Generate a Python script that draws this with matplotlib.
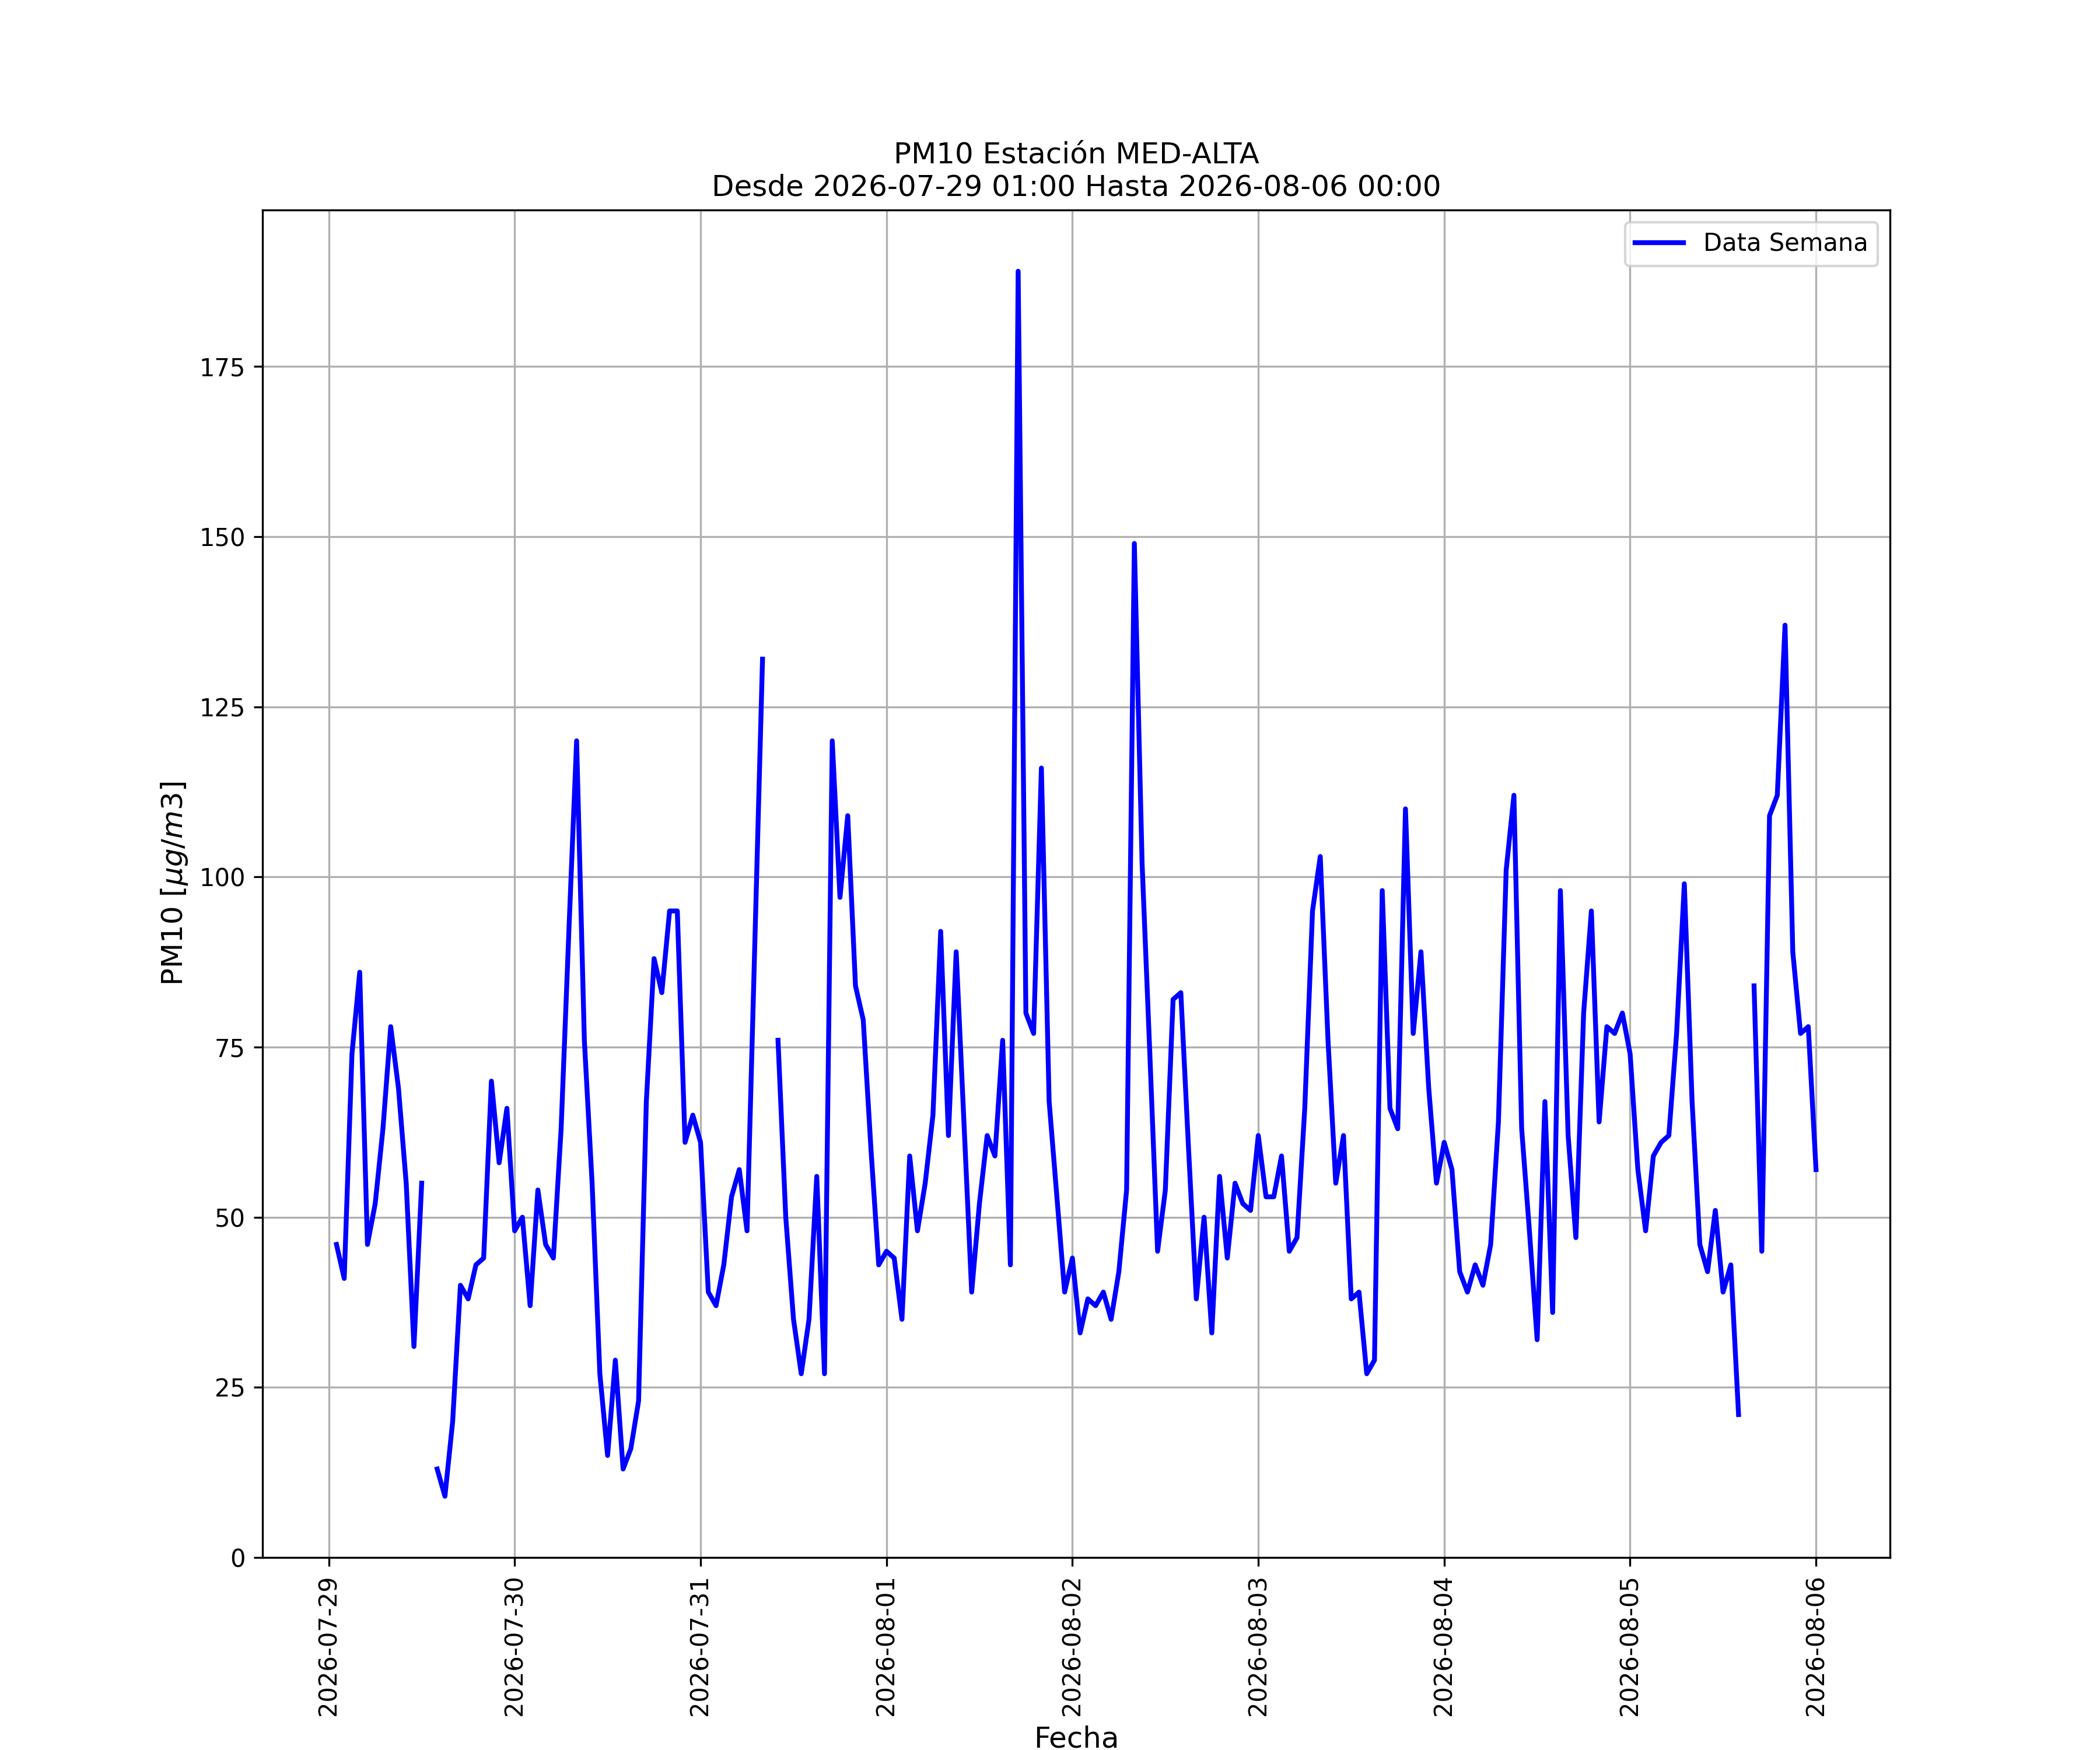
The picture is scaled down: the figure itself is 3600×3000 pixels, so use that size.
import numpy as np
import pandas as pd
import matplotlib
matplotlib.use('Agg')
import matplotlib.pyplot as plt
import matplotlib.dates as mdates

nan = np.nan

# hourly PM10 values, one list per day
day_0729 = [46, 41, 74, 86, 46, 52, 63, 78, 69, 55, 31, 55, nan, 13, 9, 20, 40, 38, 43, 44, 70, 58, 66]  # from 01:00
day_0730 = [48, 50, 37, 54, 46, 44, 63, 92, 120, 76, 55, 27, 15, 29, 13, 16, 23, 67, 88, 83, 95, 95, 61, 65]
day_0731 = [61, 39, 37, 43, 53, 57, 48, 90, 132, nan, 76, 50, 35, 27, 35, 56, 27, 120, 97, 109, 84, 79, 60, 43]
day_0801 = [45, 44, 35, 59, 48, 55, 65, 92, 62, 89, 64, 39, 52, 62, 59, 76, 43, 189, 80, 77, 116, 67, 53, 39]
day_0802 = [44, 33, 38, 37, 39, 35, 42, 54, 149, 102, 74, 45, 54, 82, 83, 60, 38, 50, 33, 56, 44, 55, 52, 51]
day_0803 = [62, 53, 53, 59, 45, 47, 66, 95, 103, 76, 55, 62, 38, 39, 27, 29, 98, 66, 63, 110, 77, 89, 69, 55]
day_0804 = [61, 57, 42, 39, 43, 40, 46, 64, 101, 112, 63, 48, 32, 67, 36, 98, 62, 47, 80, 95, 64, 78, 77, 80]
day_0805 = [74, 57, 48, 59, 61, 62, 77, 99, 67, 46, 42, 51, 39, 43, 21, nan, 84, 45, 109, 112, 137, 89, 77, 78]
day_0806 = [57]

START = '2026-07-29 01:00'
END = '2026-08-06 00:00'
ESTACION = 'MED-ALTA'

values = day_0729 + day_0730 + day_0731 + day_0801 + day_0802 + day_0803 + day_0804 + day_0805 + day_0806
fechas = pd.date_range(START, END, freq='h')
df = pd.DataFrame({'fecha': fechas, 'pm10': values})

fig, ax = plt.subplots(figsize=(12, 10), dpi=300)
ax.plot(df['fecha'], df['pm10'], color='blue', linewidth=2, label='Data Semana')

ax.set_title('PM10 Estación ' + ESTACION + '\nDesde ' + START + ' Hasta ' + END)
ax.set_xlabel('Fecha', fontsize=12)
ax.set_ylabel('PM10 [$\\mu g/m3$]', fontsize=12)
ax.set_ylim(bottom=0)
ax.xaxis.set_major_locator(mdates.DayLocator())
ax.xaxis.set_major_formatter(mdates.DateFormatter('%Y-%m-%d'))
plt.setp(ax.get_xticklabels(), rotation=90)
ax.grid(True)
ax.legend(loc='upper right')

plt.savefig('out.png', dpi=300)
